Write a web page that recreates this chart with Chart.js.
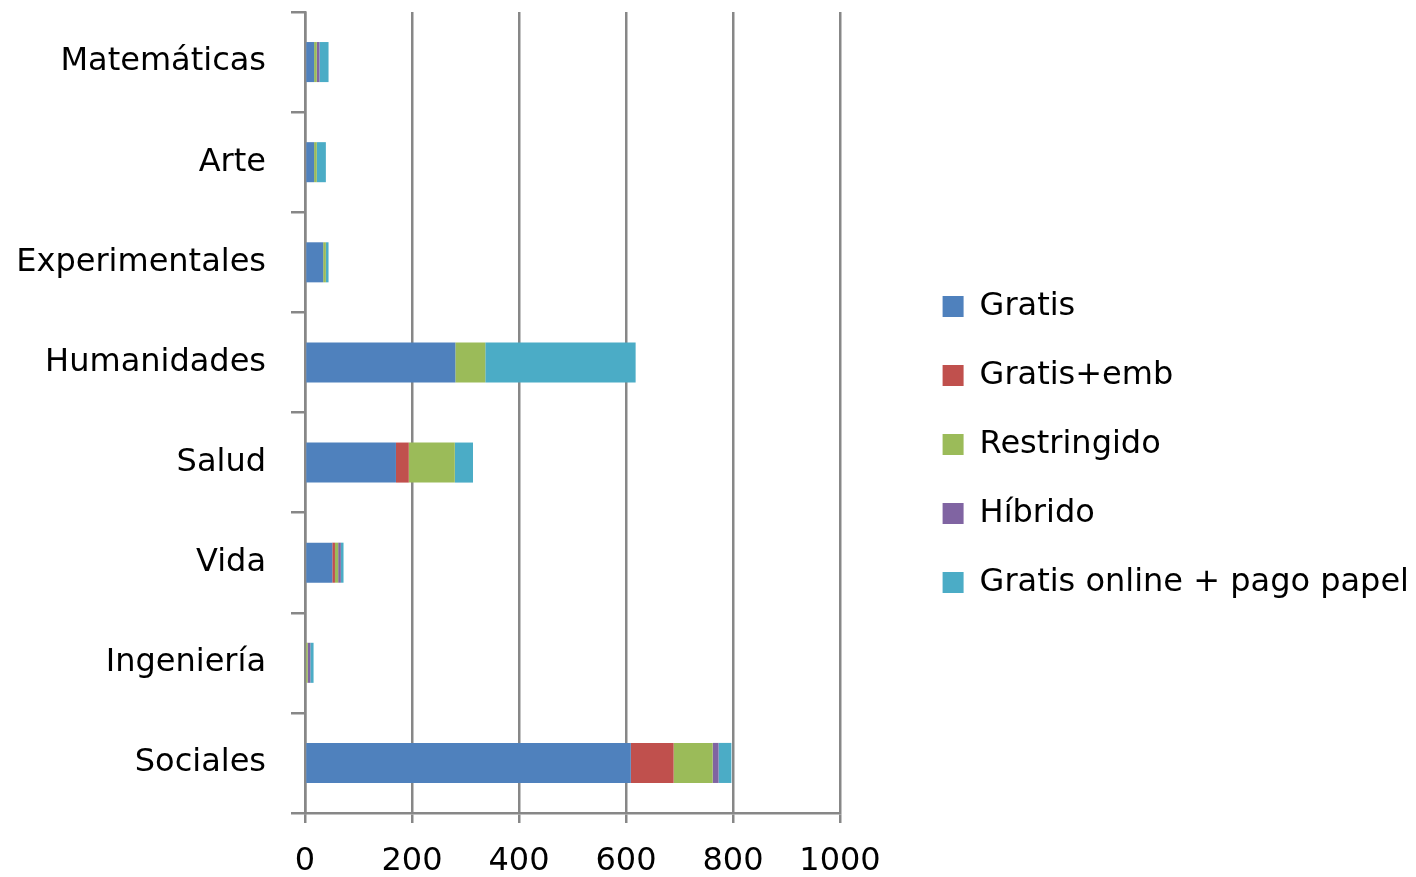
<!DOCTYPE html>
<html>
<head>
<meta charset="utf-8">
<script src="https://cdn.jsdelivr.net/npm/chart.js@4.4.1/dist/chart.umd.min.js"></script>
<style>
  html, body { margin: 0; padding: 0; background: #fff; }
  #wrap { width: 1416px; height: 877px; position: relative; }
</style>
</head>
<body>
<div id="wrap"><canvas id="chart"></canvas></div>
<script>
// categories, top to bottom
const areas = ['Matemáticas', 'Arte', 'Experimentales', 'Humanidades', 'Salud', 'Vida', 'Ingeniería', 'Sociales'];

// series
const gratis      = [17, 17, 34, 281, 170, 51, 0, 609];
const gratisEmb   = [0, 0, 0, 0, 24, 5, 0, 80];
const restringido = [5, 5, 5, 56, 86, 6, 5, 73];
const hibrido     = [5, 0, 0, 0, 0, 5, 5, 11];
const onlinePapel = [17, 17, 5, 281, 34, 5, 6, 24];

const xTicks = [0, 200, 400, 600, 800, 1000];

const gray = '#878787';
const font = { family: 'DejaVu Sans', size: 32 };
const rightPad = -3;

const ctx = document.getElementById('chart');

new Chart(ctx, {
  type: 'bar',
  data: {
    labels: areas,
    datasets: [
      { label: 'Gratis', data: gratis, backgroundColor: '#4F81BD' },
      { label: 'Gratis+emb', data: gratisEmb, backgroundColor: '#C0504D' },
      { label: 'Restringido', data: restringido, backgroundColor: '#9BBB59' },
      { label: 'Híbrido', data: hibrido, backgroundColor: '#8064A2' },
      { label: 'Gratis online + pago papel', data: onlinePapel, backgroundColor: '#4BACC6' }
    ]
  },
  options: {
    indexAxis: 'y',
    responsive: true,
    maintainAspectRatio: false,
    devicePixelRatio: 1,
    animation: false,
    categoryPercentage: 0.4,
    barPercentage: 1,
    layout: { padding: { top: 12, right: rightPad, bottom: 0, left: 0 } },
    scales: {
      x: {
        stacked: true,
        min: 0,
        max: 1000,
        afterBuildTicks: s => { s.ticks = xTicks.map(v => ({ value: v })); },
        afterFit: s => { s.height = 64; },
        grid: { color: gray, lineWidth: 2.5, tickLength: 10, tickColor: gray },
        border: { display: true, color: gray, width: 2.5 },
        ticks: { color: '#000', font: font, padding: 19, maxRotation: 0, callback: v => String(v) }
      },
      y: {
        stacked: true,
        afterFit: s => { s.width = 305; s.paddingTop = 0; s.paddingBottom = 0; },
        grid: { offset: true, drawOnChartArea: false, color: gray, lineWidth: 2.5, tickLength: 14 },
        border: { display: true, color: gray, width: 2.5 },
        ticks: { color: '#000', font: font, padding: 25 }
      },
      // empty spacer between plot and legend
      gap: {
        type: 'category',
        position: 'right',
        afterFit: s => {
          const lg = s.chart.legend;
          s.width = lg ? Math.max(0, s.chart.width - rightPad - lg.width - 840) : 64;
          s.paddingTop = 0;
          s.paddingBottom = 0;
        },
        grid: { display: false },
        border: { display: false },
        ticks: { display: false }
      }
    },
    plugins: {
      legend: {
        position: 'right',
        align: 'center',
        maxWidth: 700,
        labels: {
          color: '#000',
          font: font,
          boxWidth: 21,
          boxHeight: 21,
          padding: 37
        }
      },
      tooltip: { enabled: false }
    }
  }
});
</script>
</body>
</html>
